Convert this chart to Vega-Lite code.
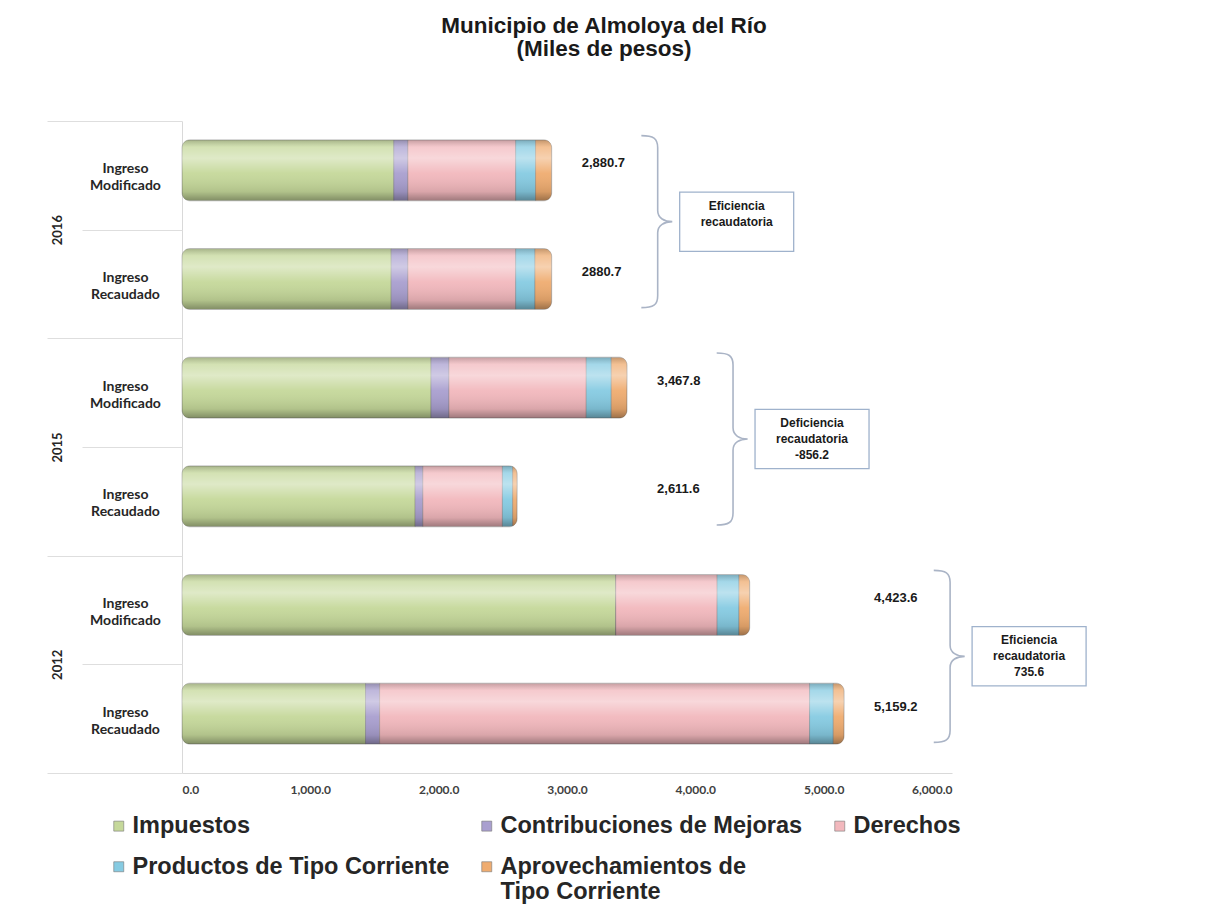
{
  "$schema": "https://vega.github.io/schema/vega-lite/v6.json",
  "width": 770,
  "height": 652,
  "autosize": {"type": "none"},
  "padding": {"left": 182, "top": 121, "right": 255, "bottom": 132},
  "background": "white",
  "title": {
    "text": ["Municipio de Almoloya del Río", "(Miles de pesos)"],
    "font": "Liberation Sans",
    "fontSize": 22.5,
    "fontWeight": "bold",
    "color": "#1a1a1a",
    "anchor": "middle",
    "frame": "group",
    "dx": 37,
    "offset": 60,
    "lineHeight": 23
  },
  "datasets": {
    "segmentos": [
      {"anio": "2016", "ingreso": "Modificado", "concepto": "Impuestos", "valor": 1650},
      {"anio": "2016", "ingreso": "Modificado", "concepto": "Contribuciones de Mejoras", "valor": 110},
      {"anio": "2016", "ingreso": "Modificado", "concepto": "Derechos", "valor": 840},
      {"anio": "2016", "ingreso": "Modificado", "concepto": "Productos de Tipo Corriente", "valor": 155},
      {"anio": "2016", "ingreso": "Modificado", "concepto": "Aprovechamientos de Tipo Corriente", "valor": 125.7},
      {"anio": "2016", "ingreso": "Recaudado", "concepto": "Impuestos", "valor": 1630},
      {"anio": "2016", "ingreso": "Recaudado", "concepto": "Contribuciones de Mejoras", "valor": 130},
      {"anio": "2016", "ingreso": "Recaudado", "concepto": "Derechos", "valor": 840},
      {"anio": "2016", "ingreso": "Recaudado", "concepto": "Productos de Tipo Corriente", "valor": 150},
      {"anio": "2016", "ingreso": "Recaudado", "concepto": "Aprovechamientos de Tipo Corriente", "valor": 130.7},
      {"anio": "2015", "ingreso": "Modificado", "concepto": "Impuestos", "valor": 1940},
      {"anio": "2015", "ingreso": "Modificado", "concepto": "Contribuciones de Mejoras", "valor": 140},
      {"anio": "2015", "ingreso": "Modificado", "concepto": "Derechos", "valor": 1070},
      {"anio": "2015", "ingreso": "Modificado", "concepto": "Productos de Tipo Corriente", "valor": 195},
      {"anio": "2015", "ingreso": "Modificado", "concepto": "Aprovechamientos de Tipo Corriente", "valor": 122.8},
      {"anio": "2015", "ingreso": "Recaudado", "concepto": "Impuestos", "valor": 1816.6},
      {"anio": "2015", "ingreso": "Recaudado", "concepto": "Contribuciones de Mejoras", "valor": 60},
      {"anio": "2015", "ingreso": "Recaudado", "concepto": "Derechos", "valor": 620},
      {"anio": "2015", "ingreso": "Recaudado", "concepto": "Productos de Tipo Corriente", "valor": 80},
      {"anio": "2015", "ingreso": "Recaudado", "concepto": "Aprovechamientos de Tipo Corriente", "valor": 35},
      {"anio": "2012", "ingreso": "Modificado", "concepto": "Impuestos", "valor": 3380},
      {"anio": "2012", "ingreso": "Modificado", "concepto": "Contribuciones de Mejoras", "valor": 0},
      {"anio": "2012", "ingreso": "Modificado", "concepto": "Derechos", "valor": 790},
      {"anio": "2012", "ingreso": "Modificado", "concepto": "Productos de Tipo Corriente", "valor": 170},
      {"anio": "2012", "ingreso": "Modificado", "concepto": "Aprovechamientos de Tipo Corriente", "valor": 83.6},
      {"anio": "2012", "ingreso": "Recaudado", "concepto": "Impuestos", "valor": 1430},
      {"anio": "2012", "ingreso": "Recaudado", "concepto": "Contribuciones de Mejoras", "valor": 110},
      {"anio": "2012", "ingreso": "Recaudado", "concepto": "Derechos", "valor": 3350},
      {"anio": "2012", "ingreso": "Recaudado", "concepto": "Productos de Tipo Corriente", "valor": 185},
      {"anio": "2012", "ingreso": "Recaudado", "concepto": "Aprovechamientos de Tipo Corriente", "valor": 84.2}
    ],
    "totales": [
      {"anio": "2016", "ingreso": "Modificado", "total": 2880.7, "etiqueta": "2,880.7"},
      {"anio": "2016", "ingreso": "Recaudado", "total": 2880.7, "etiqueta": "2880.7"},
      {"anio": "2015", "ingreso": "Modificado", "total": 3467.8, "etiqueta": "3,467.8"},
      {"anio": "2015", "ingreso": "Recaudado", "total": 2611.6, "etiqueta": "2,611.6"},
      {"anio": "2012", "ingreso": "Modificado", "total": 4423.6, "etiqueta": "4,423.6"},
      {"anio": "2012", "ingreso": "Recaudado", "total": 5159.2, "etiqueta": "5,159.2"}
    ],
    "anios": [
      {"anio": "2016", "texto": "Eficiencia\nrecaudatoria"},
      {"anio": "2015", "texto": "Deficiencia\nrecaudatoria\n-856.2"},
      {"anio": "2012", "texto": "Eficiencia\nrecaudatoria\n735.6"}
    ]
  },
  "layer": [
    {
      "layer": [
        {
          "data": {"name": "segmentos"},
          "transform": [
            {"calculate": "datum.anio + '|' + datum.ingreso", "as": "fila"},
            {"calculate": "indexof(['Impuestos','Contribuciones de Mejoras','Derechos','Productos de Tipo Corriente','Aprovechamientos de Tipo Corriente'], datum.concepto)", "as": "orden"}
          ],
          "mark": {"type": "bar", "size": 61, "cornerRadius": 8, "yOffset": -5, "stroke": "#6e6e6e", "strokeWidth": 0.6, "strokeOpacity": 0.6},
          "encoding": {
            "y": {
              "field": "fila", "type": "nominal",
              "sort": ["2016|Modificado", "2016|Recaudado", "2015|Modificado", "2015|Recaudado", "2012|Modificado", "2012|Recaudado"],
              "scale": {"paddingInner": 0, "paddingOuter": 0},
              "axis": {
                "orient": "left", "title": null, "ticks": false, "grid": false,
                "domain": true, "domainColor": "#d9d9d9",
                "labelExpr": "['Ingreso', split(datum.value, '|')[1]]",
                "labelAlign": "center", "labelBaseline": "middle", "labelPadding": 57, "labelOffset": -6,
                "labelFont": "Lato", "labelFontSize": 14, "labelFontWeight": "bold", "labelColor": "#262626",
                "labelLineHeight": 17, "labelLimit": 200
              }
            },
            "x": {
              "field": "valor", "type": "quantitative", "stack": "zero",
              "scale": {"domain": [0, 6000], "nice": false},
              "axis": {
                "title": null, "values": [0, 1000, 2000, 3000, 4000, 5000, 6000], "format": ",.1f",
                "grid": false, "ticks": false, "domain": true, "domainColor": "#d9d9d9",
                "labelFont": "Lato", "labelFontSize": 12, "labelFontWeight": "bold", "labelColor": "#404040",
                "labelPadding": 11
              }
            },
            "color": {
              "field": "concepto", "type": "nominal",
              "scale": {
                "domain": ["Impuestos", "Contribuciones de Mejoras", "Derechos", "Productos de Tipo Corriente", "Aprovechamientos de Tipo Corriente"],
                "range": ["#c5d89a", "#a99fcf", "#f2b8bd", "#86cbe2", "#efac70"]
              },
              "legend": {
                "orient": "none", "legendX": -75, "legendY": 693, "columns": 3, "direction": "horizontal",
                "title": null, "labelFont": "Liberation Sans", "labelFontSize": 23.5, "labelFontWeight": "bold",
                "labelColor": "#262626", "labelLimit": 700, "symbolType": "square", "symbolSize": 100,
                "symbolStrokeWidth": 0.6, "symbolStrokeColor": "#777777", "columnPadding": 25, "rowPadding": 16,
                "labelOffset": 2, "labelBaseline": "middle",
                "labelExpr": "datum.label == 'Aprovechamientos de Tipo Corriente' ? ['Aprovechamientos de', 'Tipo Corriente'] : datum.label"
              }
            },
            "order": {"field": "orden"}
          }
        },
        {
          "data": {"name": "segmentos"},
          "transform": [
            {"calculate": "datum.anio + '|' + datum.ingreso", "as": "fila"},
            {"calculate": "indexof(['Impuestos','Contribuciones de Mejoras','Derechos','Productos de Tipo Corriente','Aprovechamientos de Tipo Corriente'], datum.concepto)", "as": "orden"}
          ],
          "mark": {
            "type": "bar", "size": 61, "cornerRadius": 8, "yOffset": -5,
            "fill": {
              "gradient": "linear", "x1": 0, "y1": 0, "x2": 0, "y2": 1,
              "stops": [
                {"offset": 0, "color": "rgba(90,90,90,0.30)"},
                {"offset": 0.12, "color": "rgba(255,255,255,0.25)"},
                {"offset": 0.3, "color": "rgba(255,255,255,0.45)"},
                {"offset": 0.55, "color": "rgba(255,255,255,0.05)"},
                {"offset": 0.85, "color": "rgba(0,0,0,0.10)"},
                {"offset": 1, "color": "rgba(0,0,0,0.35)"}
              ]
            }
          },
          "encoding": {
            "y": {"field": "fila", "type": "nominal", "sort": ["2016|Modificado", "2016|Recaudado", "2015|Modificado", "2015|Recaudado", "2012|Modificado", "2012|Recaudado"]},
            "x": {"field": "valor", "type": "quantitative", "stack": "zero", "scale": {"domain": [0, 6000], "nice": false}},
            "detail": {"field": "concepto"},
            "order": {"field": "orden"}
          }
        },
        {
          "data": {"name": "totales"},
          "transform": [
            {"joinaggregate": [{"op": "max", "field": "total", "as": "maximo"}], "groupby": ["anio"]},
            {"calculate": "datum.anio + '|' + datum.ingreso", "as": "fila"}
          ],
          "mark": {"type": "text", "align": "left", "baseline": "middle", "dx": 30, "dy": -12, "font": "Liberation Sans", "fontSize": 13, "fontWeight": "bold", "color": "#1a1a1a"},
          "encoding": {
            "y": {"field": "fila", "type": "nominal", "sort": ["2016|Modificado", "2016|Recaudado", "2015|Modificado", "2015|Recaudado", "2012|Modificado", "2012|Recaudado"]},
            "x": {"field": "maximo", "type": "quantitative", "scale": {"domain": [0, 6000], "nice": false}},
            "text": {"field": "etiqueta"}
          }
        }
      ]
    },
    {
      "layer": [
        {
          "data": {"name": "totales"},
          "transform": [
            {"aggregate": [{"op": "max", "field": "total", "as": "maximo"}], "groupby": ["anio"]},
            {"calculate": "datum.anio == '2016' ? 1 : datum.anio == '2015' ? 3 : 5", "as": "pos"}
          ],
          "mark": {
            "type": "point",
            "shape": "M -0.19 -1 C -0.05 -1 0 -0.97 0 -0.86 L 0 -0.13 C 0 -0.04 0.08 0 0.17 0 C 0.08 0 0 0.04 0 0.13 L 0 0.86 C 0 0.97 -0.05 1 -0.19 1",
            "size": 29584, "filled": false, "stroke": "#aab4c6", "strokeWidth": 1.6, "opacity": 1,
            "xOffset": 106, "yOffset": -8
          },
          "encoding": {
            "x": {"field": "maximo", "type": "quantitative", "scale": {"domain": [0, 6000], "nice": false}},
            "y": {
              "field": "pos", "type": "quantitative",
              "scale": {"domain": [0, 6], "reverse": true, "nice": false, "zero": false},
              "axis": {
                "orient": "left", "title": null, "values": [0, 1, 2, 3, 4, 5, 6],
                "labelExpr": "datum.value == 1 ? '2016' : datum.value == 3 ? '2015' : datum.value == 5 ? '2012' : ''",
                "grid": false, "domain": false, "ticks": true,
                "tickSize": {"condition": {"test": "datum.value % 2 == 0", "value": 135}, "value": 100},
                "tickColor": "#dedede", "tickWidth": 1,
                "labelAngle": -90, "labelAlign": "center", "labelBaseline": "middle", "labelPadding": 25,
                "labelFont": "Lato", "labelFontSize": 13, "labelFontWeight": "bold", "labelColor": "#262626"
              }
            }
          }
        },
        {
          "data": {"name": "totales"},
          "transform": [
            {"aggregate": [{"op": "max", "field": "total", "as": "maximo"}], "groupby": ["anio"]},
            {"calculate": "datum.anio == '2016' ? 1 : datum.anio == '2015' ? 3 : 5", "as": "pos"}
          ],
          "mark": {
            "type": "point",
            "shape": "M -1 -0.52 L 1 -0.52 L 1 0.52 L -1 0.52 Z",
            "size": 12996, "filled": false, "stroke": "#9fb2cc", "strokeWidth": 1.3, "opacity": 1,
            "xOffset": 185, "yOffset": -8
          },
          "encoding": {
            "x": {"field": "maximo", "type": "quantitative", "scale": {"domain": [0, 6000], "nice": false}},
            "y": {"field": "pos", "type": "quantitative"}
          }
        },
        {
          "data": {"name": "totales"},
          "transform": [
            {"aggregate": [{"op": "max", "field": "total", "as": "maximo"}], "groupby": ["anio"]},
            {"calculate": "datum.anio == '2016' ? 1 : datum.anio == '2015' ? 3 : 5", "as": "pos"},
            {"lookup": "anio", "from": {"data": {"name": "anios"}, "key": "anio", "fields": ["texto"]}}
          ],
          "mark": {
            "type": "text", "align": "center", "baseline": "middle", "lineBreak": "\n", "lineHeight": 16,
            "dx": 185, "dy": -24, "font": "Liberation Sans", "fontSize": 12, "fontWeight": "bold", "color": "#1a1a1a"
          },
          "encoding": {
            "x": {"field": "maximo", "type": "quantitative", "scale": {"domain": [0, 6000], "nice": false}},
            "y": {"field": "pos", "type": "quantitative"},
            "text": {"field": "texto"}
          }
        }
      ]
    }
  ],
  "resolve": {"scale": {"y": "independent"}, "axis": {"y": "independent"}},
  "config": {"view": {"stroke": null}}
}
